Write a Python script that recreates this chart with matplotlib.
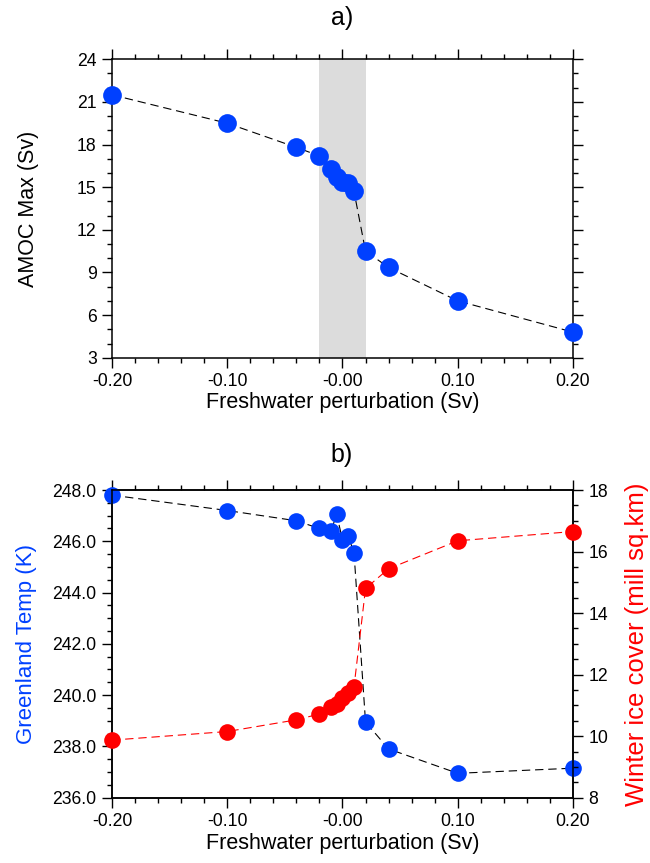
import numpy as np
import matplotlib
matplotlib.use("Agg")
import matplotlib.pyplot as plt
from matplotlib.ticker import MultipleLocator, FormatStrFormatter

plt.rcParams['font.family'] = ['Liberation Sans', 'DejaVu Sans']
plt.rcParams['lines.scale_dashes'] = False

# freshwater forcing of each run (Sv)
fw = [-0.2, -0.1, -0.04, -0.02, -0.01, -0.005, 0.0, 0.005, 0.01, 0.02, 0.04, 0.1, 0.2]
# a) maximum AMOC strength (Sv)
amoc_max = [21.5, 19.5, 17.8, 17.2, 16.3, 15.7, 15.4, 15.3, 14.7, 10.5, 9.35, 7.0, 4.8]
# b) Greenland temperature (K) and winter sea ice cover (mill sq.km)
greenland_t = [247.8, 247.2, 246.8, 246.5, 246.4, 247.05, 246.05, 246.2, 245.55,
               238.95, 237.9, 236.95, 237.15]
ice_cover = [9.87, 10.15, 10.53, 10.72, 10.95, 11.05, 11.25, 11.4, 11.6,
             14.8, 15.44, 16.35, 16.65]

xticks = [-0.2, -0.1, 0.0, 0.1, 0.2]
xtick_labels = ['-0.20', '-0.10', '-0.00', '0.10', '0.20']
shade = (-0.02, 0.02)

blue = '#0040ff'
red = '#ff0000'
tick_fs = 12.7
label_fs = 15.5


def style_axis(ax):
    ax.set_xlim(-0.2, 0.2)
    ax.set_xticks(xticks)
    ax.set_xticklabels(xtick_labels)
    ax.xaxis.set_minor_locator(MultipleLocator(0.02))
    ax.tick_params(which='both', direction='out', top=True, labelsize=tick_fs,
                   width=1.0, pad=4)
    ax.tick_params(which='major', length=7)
    ax.tick_params(which='minor', length=3.5)
    for sp in ax.spines.values():
        sp.set_linewidth(1.1)
    ax.set_xlabel('Freshwater perturbation (Sv)', fontsize=label_fs)
    ax.xaxis.set_label_coords(0.5, -0.115)


fig = plt.figure(figsize=(6.5, 8.63), dpi=100)

# ---- a) AMOC
ax1 = fig.add_axes([0.1723, 0.5855, 0.7092, 0.3458])
ax1.axvspan(shade[0], shade[1], color='#dcdcdc', lw=0, zorder=0)
ax1.plot(fw, amoc_max, color='k', lw=0.8, dashes=(6, 3.5), zorder=2)
ax1.plot(fw, amoc_max, 'o', color=blue, ms=13.5, mew=0, zorder=3, clip_on=False)
style_axis(ax1)
ax1.tick_params(which='both', right=True)
ax1.set_ylim(3, 24)
ax1.yaxis.set_major_locator(MultipleLocator(3))
ax1.yaxis.set_minor_locator(MultipleLocator(1))
ax1.set_ylabel('AMOC Max (Sv)', fontsize=label_fs)
ax1.yaxis.set_label_coords(-0.158, 0.5)
fig.text(342 / 650, 1 - 18 / 863, 'a)', ha='center', va='center', fontsize=18)

# ---- b) Greenland temperature and sea ice
ax2 = fig.add_axes([0.1723, 0.0757, 0.7092, 0.3565])
ax2.plot(fw, greenland_t, color='k', lw=0.8, dashes=(6, 3.5), zorder=2)
ax2.plot(fw, greenland_t, 'o', color=blue, ms=12, mew=0, zorder=3, clip_on=False)
style_axis(ax2)
ax2.tick_params(which='both', right=False)
ax2.set_ylim(236, 248)
ax2.yaxis.set_major_locator(MultipleLocator(2))
ax2.yaxis.set_minor_locator(MultipleLocator(0.5))
ax2.yaxis.set_major_formatter(FormatStrFormatter('%.1f'))
ax2.set_ylabel('Greenland Temp (K)', fontsize=16, color=blue)
ax2.yaxis.set_label_coords(-0.162, 0.5)

ax3 = ax2.twinx()
ax3.plot(fw, ice_cover, color=red, lw=0.8, dashes=(6, 3.5), zorder=2)
ax3.plot(fw, ice_cover, 'o', color=red, ms=12, mew=0, zorder=3, clip_on=False)
ax3.set_ylim(8, 18)
ax3.yaxis.set_major_locator(MultipleLocator(2))
ax3.yaxis.set_minor_locator(MultipleLocator(0.5))
ax3.tick_params(which='both', direction='out', labelsize=tick_fs, width=1.0, pad=4)
ax3.tick_params(which='major', length=7)
ax3.tick_params(which='minor', length=3.5)
for sp in ax3.spines.values():
    sp.set_linewidth(1.1)
ax3.set_ylabel('Winter ice cover (mill sq.km)', fontsize=18.5, color=red)
ax3.yaxis.set_label_coords(1.112, 0.5)
fig.text(342 / 650, 1 - 455 / 863, 'b)', ha='center', va='center', fontsize=18)

fig.savefig('out.png', dpi=100)
